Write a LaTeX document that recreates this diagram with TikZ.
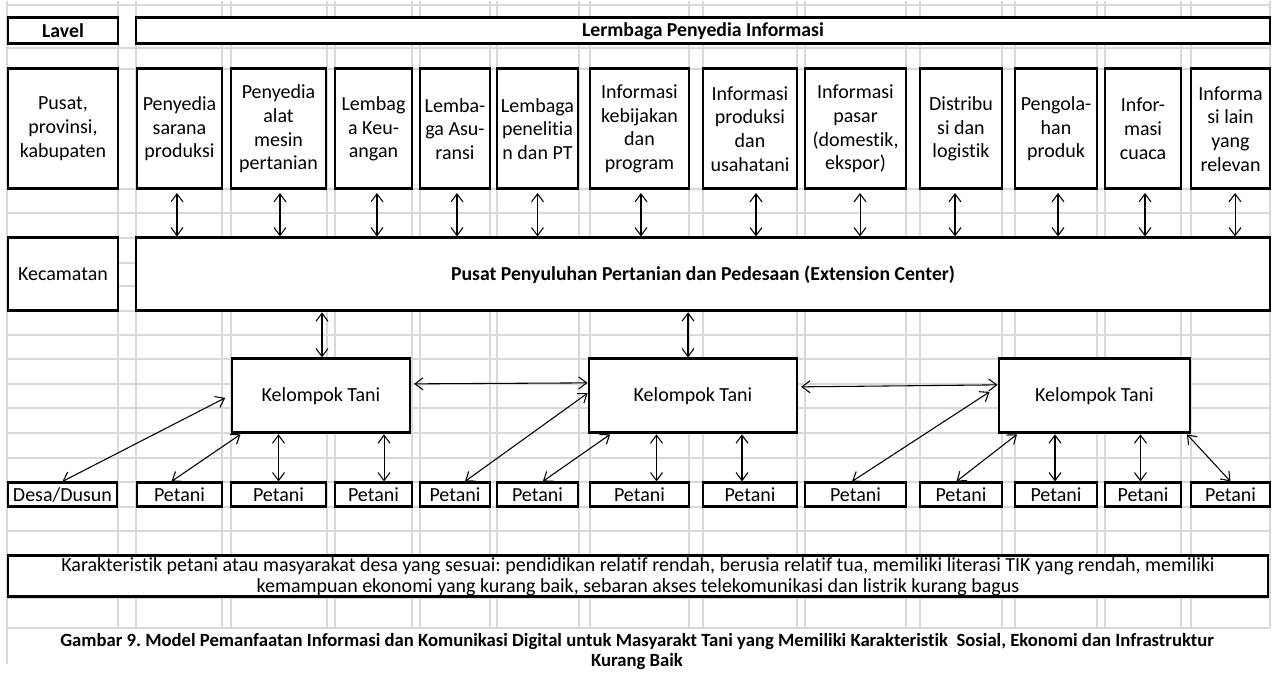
\documentclass[tikz,border=0pt]{standalone}
\usepackage{fontspec}
\setmainfont{Carlito}[Ligatures=NoCommon]
\frenchspacing
\usetikzlibrary{arrows.meta}
\definecolor{sheetgray}{RGB}{217,217,217}
\tikzset{
  cell/.style={draw, line width=2.2pt, fill=white, inner sep=0pt, align=center,
    font=\fontsize{15}{17.8}\selectfont},
  head/.style={cell, font=\fontsize{14.8}{17.8}\selectfont\bfseries},
  span/.style args={#1/#2/#3/#4}{at={({(#1+#3)/2},{(#2+#4)/2})},
    minimum width={(#3-#1)*0.75pt}, minimum height={(#4-#2)*0.75pt}},
  link/.style={{Straight Barb[length=6pt,width=9pt]}-{Straight Barb[length=6pt,width=9pt]},
    line width=0.8pt},
  sheet/.style={sheetgray, line width=1.3pt},
}
\begin{document}
\begin{tikzpicture}[x=0.75pt, y=-0.75pt]
  \path[fill=white] (0,0) rectangle (1274,675);
  % SHEET GRID
  \foreach \gx in {7,118,136,222,231,327,335,412,420,490,497,579,590,689,703,797,805,906,920,1002,1015,1097,1105,1181,1191,1270}
    \draw[sheet] (\gx,0) -- (\gx,627);
  \draw[sheet] (7,627) -- (7,663);
  \foreach \gy in {4,47,68,188,212,237,262,285,310,334,358,383,407,432,457,481,506,530,555,597,627}
    \draw[sheet] (7,\gy) -- (1270,\gy);
  % TOP PART
  % -- headers
  \node[head, span=8/17/118/43] (lavel) {Lavel};
  \node[head, span=136/17/1270/43] (lembaga) {Lermbaga Penyedia Informasi};
  % -- providers
  \node[cell, span=8/68/118/188] (pusat) {Pusat,\\provinsi,\\kabupaten};
  \node[cell, span=137/68/222/188] (sarana) {Penyedia\\sarana\\produksi};
  \node[cell, span=231/68/326/188] (alat) {Penyedia\\alat\\mesin\\pertanian};
  \node[cell, span=335/68/412/188] (keuangan) {Lembag\\a Keu-\\angan};
  \node[cell, span=420/68/490/188] (asuransi) {Lemba-\\ga Asu-\\ransi};
  \node[cell, span=497/68/578/188] (penelitian) {Lembaga\\penelitia\\n dan PT};
  \node[cell, span=590/68/689/188] (kebijakan) {Informasi\\kebijakan\\dan\\program};
  \node[cell, span=703/68/797/188] (produksi) {Informasi\\produksi\\dan\\usahatani};
  \node[cell, span=805/68/906/188] (pasar) {Informasi\\pasar\\(domestik,\\ekspor)};
  \node[cell, span=920/68/1002/188] (distribusi) {Distribu\\si dan\\logistik};
  \node[cell, span=1015/68/1097/188] (pengolahan) {Pengola-\\han\\produk};
  \node[cell, span=1105/68/1181/188] (cuaca) {Infor-\\masi\\cuaca};
  \node[cell, span=1191/68/1270/188] (lain) {Informa\\si lain\\yang\\relevan};
  % MIDDLE PART
  \node[cell, span=8/237/118/310] (kecamatan) {Kecamatan};
  \node[head, span=136/237/1270/310] (ppp) {Pusat Penyuluhan Pertanian dan Pedesaan (Extension Center)};
  % -- kelompok tani
  \node[cell, span=232/358/410/432] (kt1) {Kelompok Tani};
  \node[cell, span=589/358/797/432] (kt2) {Kelompok Tani};
  \node[cell, span=999/358/1190/432] (kt3) {Kelompok Tani};
  % BOTTOM PART
  \node[cell, span=8/482/117/506] (desa) {Desa/Dusun};
  \foreach \i/\xa/\xb in {1/137/222, 2/231/326, 3/335/412, 4/420/490, 5/497/578, 6/590/689,
      7/703/797, 8/805/906, 9/920/1002, 10/1015/1097, 11/1105/1181, 12/1191/1270}
    \node[cell, span=\xa/482/\xb/506] (p\i) {Petani};
  \node[cell, font=\fontsize{15}{15.8}\selectfont, span=8/555/1268/596] (karakter)
    {Karakteristik petani atau masyarakat desa yang sesuai: pendidikan relatif rendah, berusia relatif tua, memiliki literasi TIK yang rendah, memiliki\\
     kemampuan ekonomi yang kurang baik, sebaran akses telekomunikasi dan listrik kurang bagus};
  \node[font=\fontsize{14}{15}\selectfont\bfseries, align=center] (gambar) at (637,651)
    {Gambar 9. Model Pemanfaatan Informasi dan Komunikasi Digital untuk Masyarakt Tani yang Memiliki Karakteristik~ Sosial, Ekonomi dan Infrastruktur\\
     Kurang Baik};
  % -- providers to extension center
  \foreach \n/\dx in {sarana/-1.9, alat/1.1, keuangan/2.6, asuransi/1.5, penelitian/0, kebijakan/1.1,
      produksi/4.5, pasar/3.4, distribusi/-4.5, pengolahan/1.5, cuaca/1.5, lain/3.4}
    \draw[link, shorten <=2pt] ([xshift=\dx pt]\n.south) -- ([xshift=\dx pt]\n.south |- ppp.north);
  % -- extension center to groups
  \draw[link] ([xshift=0.75pt]kt1.north |- ppp.south) -- ([xshift=0.75pt]kt1.north);
  \draw[link] ([xshift=-3.75pt]kt2.north |- ppp.south) -- ([xshift=-3.75pt]kt2.north);
  \draw[link, shorten <=2pt] ([yshift=9pt]kt1.east) -- ([yshift=9.75pt]kt2.west);
  \draw[link, shorten <=2pt] ([yshift=6.75pt]kt2.east) -- ([yshift=8.25pt]kt3.west);
  % -- groups to farmers
  \draw[link] ([shift={(-4pt,-1.5pt)}]kt1.west) -- (desa.north);
  \draw[link] ([xshift=7.5pt]kt1.south west) -- ([xshift=-6pt]p1.north);
  \draw[link] (p2.north) -- (p2.north |- kt1.south);
  \draw[link] ([xshift=7.9pt]p3.north) -- ([xshift=7.9pt]p3.north |- kt1.south);
  \draw[link] ([yshift=2pt]kt2.west) -- ([xshift=7.5pt]p4.north);
  \draw[link] ([xshift=17pt]kt2.south west) -- ([xshift=4pt]p5.north);
  \draw[link] ([xshift=12.75pt]p6.north) -- ([xshift=12.75pt]p6.north |- kt2.south);
  \draw[link] ([xshift=-6pt]p7.north) -- ([xshift=-6pt]p7.north |- kt2.south);
  \draw[link] ([shift={(-6pt,3pt)}]kt3.west) -- ([xshift=-2.6pt]p8.north);
  \draw[link] ([xshift=14.6pt]kt3.south west) -- ([xshift=-3.4pt]p9.north);
  \draw[link] ([xshift=-0.75pt]p10.north) -- ([xshift=-0.75pt]p10.north |- kt3.south);
  \draw[link] ([xshift=-1.9pt]p11.north) -- ([xshift=-1.9pt]p11.north |- kt3.south);
  \draw[link] ([xshift=-3.4pt]kt3.south east) -- (p12.north);
\end{tikzpicture}
\end{document}
